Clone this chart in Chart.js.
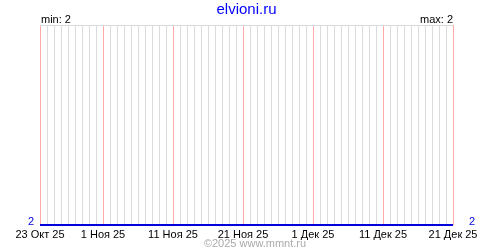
<!DOCTYPE html>
<html>
<head>
<meta charset="utf-8">
<script src="https://cdn.jsdelivr.net/npm/chart.js@4/dist/chart.umd.min.js"></script>
<style>
  body { margin: 0; background: #fff; }
  canvas { display: block; }
</style>
</head>
<body>
<canvas id="chart" width="500" height="250"></canvas>
<script>
// Data: one point per day, 23 Oct .. 21 Dec 2025
let days = [
  '23.10', '24.10', '25.10', '26.10', '27.10', '28.10', '29.10', '30.10', '31.10',
  '01.11', '02.11', '03.11', '04.11', '05.11', '06.11', '07.11', '08.11', '09.11', '10.11',
  '11.11', '12.11', '13.11', '14.11', '15.11', '16.11', '17.11', '18.11', '19.11', '20.11',
  '21.11', '22.11', '23.11', '24.11', '25.11', '26.11', '27.11', '28.11', '29.11', '30.11',
  '01.12', '02.12', '03.12', '04.12', '05.12', '06.12', '07.12', '08.12', '09.12', '10.12',
  '11.12', '12.12', '13.12', '14.12', '15.12', '16.12', '17.12', '18.12', '19.12', '20.12',
  '21.12'
];
let values = [
  2, 2, 2, 2, 2, 2, 2, 2, 2,
  2, 2, 2, 2, 2, 2, 2, 2, 2, 2,
  2, 2, 2, 2, 2, 2, 2, 2, 2, 2,
  2, 2, 2, 2, 2, 2, 2, 2, 2, 2,
  2, 2, 2, 2, 2, 2, 2, 2, 2, 2,
  2, 2, 2, 2, 2, 2, 2, 2, 2, 2,
  2
];
let tickDays = ['23.10', '01.11', '11.11', '21.11', '01.12', '11.12', '21.12'];
let tickText = ['23 Окт 25', '1 Ноя 25', '11 Ноя 25', '21 Ноя 25', '1 Дек 25', '11 Дек 25', '21 Дек 25'];
let siteName = 'elvioni.ru';
let minText = 'min: 2';
let maxText = 'max: 2';
let footerText = '©2025 www.mmnt.ru';

let font = 'Liberation Sans';

// label for a day index, '' when the day has no tick
labelFor = (i) => {
  let k = tickDays.indexOf(days[i]);
  return k >= 0 ? tickText[k] : '';
}

// Texts around the plot: site name, min / max, copyright
let textPlugin = {
  id: 'texts',
  afterDraw: (chart) => {
    let ctx = chart.ctx;
    let area = chart.chartArea;
    ctx.save();
    ctx.textBaseline = 'alphabetic';
    ctx.fillStyle = '#0000ff';
    ctx.font = '15px "' + font + '"';
    ctx.textAlign = 'center';
    ctx.fillText(siteName, (area.left + area.right) / 2, 14);
    ctx.fillStyle = '#000';
    ctx.font = '11px "' + font + '"';
    ctx.textAlign = 'left';
    ctx.fillText(minText, area.left + 1, 23);
    ctx.textAlign = 'right';
    ctx.fillText(maxText, area.right, 23);
    ctx.fillStyle = '#aaa';
    ctx.textAlign = 'center';
    ctx.fillText(footerText, 255, 247);
    ctx.restore();
  }
};

let yTicks = (scale) => {
  scale.ticks = [{ value: 2 }, { value: 3 }];
};

let ctx = document.getElementById('chart').getContext('2d');
let chart = new Chart(ctx, {
  type: 'line',
  data: {
    labels: days,
    datasets: [{
      data: values,
      borderColor: '#0000dd',
      borderWidth: 2,
      pointRadius: 0,
      tension: 0,
      clip: false,
      yAxisID: 'y'
    }]
  },
  options: {
    responsive: false,
    animation: false,
    events: [],
    layout: { padding: { top: 25, left: 0, right: 0, bottom: 0 } },
    plugins: {
      legend: { display: false },
      title: { display: false },
      tooltip: { enabled: false }
    },
    scales: {
      x: {
        type: 'category',
        offset: false,
        border: { display: false },
        grid: {
          drawTicks: false,
          lineWidth: 1,
          color: (c) => labelFor(c.index) ? '#ffaaaa' : '#dcdcdc'
        },
        ticks: {
          autoSkip: false,
          maxRotation: 0,
          padding: 3,
          color: '#000',
          font: { family: font, size: 11 },
          callback: (v, i) => labelFor(i)
        },
        afterFit: (s) => { s.height = 25; }
      },
      y: {
        position: 'left',
        min: 2,
        max: 3,
        border: { display: false },
        afterBuildTicks: yTicks,
        grid: {
          drawTicks: false,
          color: (c) => c.tick && c.tick.value === 3 ? '#dcdcdc' : 'rgba(0,0,0,0)'
        },
        ticks: {
          padding: 6,
          labelOffset: -3,
          color: '#0000dd',
          font: { family: font, size: 11 },
          callback: (v) => v === 2 ? '2' : ''
        },
        afterFit: (s) => { s.width = 40; }
      },
      y2: {
        position: 'right',
        min: 2,
        max: 3,
        border: { display: false },
        afterBuildTicks: yTicks,
        grid: { display: false },
        ticks: {
          padding: 8,
          labelOffset: -3,
          color: '#0000dd',
          font: { family: font, size: 11 },
          callback: (v) => v === 2 ? '2' : ''
        },
        afterFit: (s) => { s.width = 47; }
      }
    }
  },
  plugins: [textPlugin]
});
</script>
</body>
</html>
